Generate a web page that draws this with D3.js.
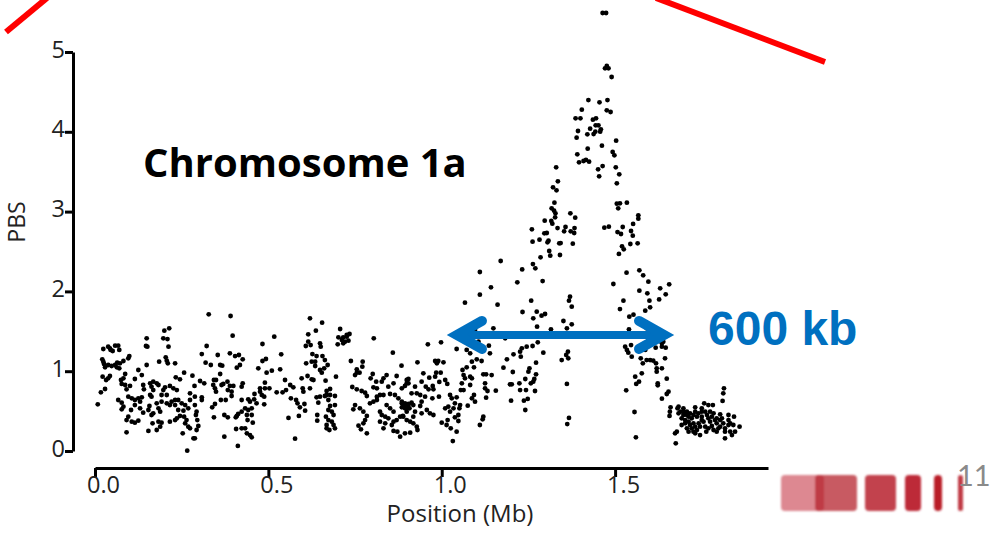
<!DOCTYPE html>
<html>
<head>
<meta charset="utf-8">
<title>Chromosome 1a</title>
<script src="https://d3js.org/d3.v7.min.js"></script>
<style>
  html, body { margin: 0; background: #fff; }
  svg text { font-family: "Open Sans", Lato, sans-serif; }
</style>
</head>
<body>
<div id="chart"></div>
<script>
const startBand = [[.008,.585],[.017,.735],[.029,.777],[.024,1.278],[.038,1.307],[.045,1.266],[.051,1.253],[.058,1.32],[.067,1.32],[.07,1.266],[.043,1.287],[.021,1.149],[.024,1.119],[.026,1.09],[.029,1.048],[.038,1.078],[.048,1.065],[.058,1.078],[.063,1.048],[.07,1.036],[.064,1.107],[.072,1.099],[.082,1.128],[.096,1.161],[.099,1.19],[.022,.931],[.038,.911],[.043,.94],[.032,.89],[.087,.965],[.082,.911],[.075,.89],[.077,.84],[.087,.827],[.101,.815],[.115,.902],[.125,1.015],[.135,.952],[.149,1.078],[.151,1.307],[.147,1.316],[.149,1.412],[.185,1.119],[.2,1.508],[.214,1.537],[.197,1.412],[.209,1.403],[.212,1.307],[.204,1.174],[.207,1.132],[.21,1.099],[.231,1.099],[.257,.982],[.233,.923],[.245,.898],[.281,.944],[.303,.877],[.315,.848],[.287,.815]];
const lowBand1 = [[.091,.773],[.096,.681],[.067,.639],[.077,.606],[.082,.556],[.077,.522],[.106,.66],[.115,.639],[.125,.66],[.13,.618],[.135,.672],[.115,.576],[.13,.535],[.104,.514],[.096,.43],[.091,.388],[.106,.368],[.115,.355],[.125,.38],[.091,.234],[.139,.48],[.159,.702],[.157,.564],[.154,.514],[.163,.451],[.168,.472],[.178,.597],[.183,.535],[.188,.493],[.166,.347],[.183,.368],[.192,.355],[.188,.305],[.178,.263],[.154,.251],[.139,.827],[.141,.773],[.159,.848],[.168,.869],[.178,.848],[.183,.827],[.163,.806],[.168,.764],[.163,.681],[.197,.764],[.202,.798],[.216,.815],[.226,.785],[.236,.764],[.192,.702],[.207,.702],[.192,.618],[.207,.597],[.216,.576],[.221,.618],[.231,.639],[.24,.639],[.25,.597],[.26,.576],[.269,.535],[.231,.576],[.24,.514],[.255,.505],[.245,.439],[.236,.409],[.216,.368],[.231,.388],[.257,.43],[.264,.388],[.26,.347],[.269,.305],[.274,.284],[.253,.221],[.284,.159],[.288,.159],[.266,.004],[.298,.313],[.293,.263],[.295,.388],[.291,.451],[.293,.493],[.288,.576],[.274,.639],[.274,.723],[.288,.681],[.308,.672],[.308,.639]];
const midBand = [[.322,1.316],[.308,1.215],[.319,1.107],[.334,1.078],[.328,1.713],[.354,1.203],[.361,1.078],[.367,1.069],[.361,.965],[.343,.89],[.349,.89],[.341,.827],[.346,.785],[.349,.744],[.365,.827],[.37,.84],[.382,.869],[.389,.815],[.399,.815],[.383,.764],[.394,.744],[.394,.689],[.426,.848],[.423,.806],[.363,.639],[.377,.639],[.346,.589],[.338,.547],[.343,.422],[.373,.451],[.383,.422],[.389,1.224],[.404,1.19],[.415,1.203],[.426,1.149],[.391,1.692],[.397,1.445],[.418,1.078],[.409,1.044],[.373,.18],[.412,.063],[.407,.276],[.423,.284],[.438,.221],[.452,.171],[.447,.2],[.455,.355],[.433,.284],[.406,.422],[.413,.464],[.423,.493],[.433,.535],[.442,.514],[.452,.535],[.409,.439],[.438,.451],[.452,.451],[.44,.388],[.423,.639],[.442,.647],[.447,.618],[.46,.714],[.459,.647],[.466,.597],[.476,.785],[.476,.744],[.481,.702],[.488,.681],[.488,.585],[.49,.856],[.49,.785],[.503,.785],[.471,1.036],[.483,1.128],[.493,1.153],[.483,1.341],[.495,.982],[.51,1.007],[.517,1.433],[.524,.735],[.541,.735],[.551,.764],[.534,1.023],[.537,1.211],[.548,.89],[.563,.827],[.572,.798],[.565,.66],[.58,.639],[.584,.597],[.591,.547],[.604,.589],[.606,.505],[.588,.439],[.558,.414],[.577,.155]];
const band600 = [[.596,.911],[.613,.94],[.599,.785],[.601,.744],[.62,.785],[.625,.898],[.63,.89],[.609,1.099],[.625,1.119],[.62,1.662],[.615,1.462],[.615,1.37],[.608,1.316],[.622,1.328],[.637,1.508],[.655,1.608],[.649,1.349],[.651,1.307],[.627,1.215],[.639,1.19],[.656,1.19],[.663,1.14],[.671,1.078],[.661,1.036],[.654,.982],[.635,1.119],[.635,1.065],[.649,1.015],[.665,.881],[.695,.931],[.639,.672],[.649,.681],[.663,.689],[.668,.702],[.644,.606],[.668,.752],[.678,.777],[.673,.639],[.678,.702],[.692,.689],[.678,.564],[.692,.576],[.673,.514],[.683,.493],[.688,.451],[.666,.43],[.641,.451],[.641,.38],[.668,.326],[.668,.284],[.676,.263],[.692,.284],[.683,.368],[.688,.326],[.673,.388]];
const knot700 = [[.707,1.529],[.734,1.466],[.702,1.424],[.716,1.424],[.726,1.433],[.712,1.391],[.721,1.37],[.731,1.383],[.7,1.337],[.716,1.349],[.726,1.454]];
const lowBand2 = [[.738,1.128],[.772,1.119],[.771,1.057],[.755,1.023],[.763,.982],[.75,.952],[.755,.982],[.742,.802],[.755,.773],[.769,.752],[.779,.731],[.784,.689],[.803,.618],[.793,.597],[.75,.576],[.745,.522],[.764,.535],[.774,.493],[.784,.439],[.779,.388],[.774,.347],[.76,.317],[.767,.272],[.784,.221],[.804,1.412],[.859,1.232],[.884,1.069],[.801,.965],[.795,.911],[.811,.869],[.803,.798],[.813,.785],[.841,.952],[.832,.911],[.827,.869],[.87,.94],[.861,.848],[.846,.806],[.904,.902],[.899,.848],[.813,.681],[.822,.702],[.832,.702],[.813,.639],[.851,.714],[.865,.702],[.875,.66],[.841,.576],[.851,.535],[.861,.493],[.822,.493],[.827,.451],[.837,.43],[.846,.409],[.822,.368],[.837,.347],[.832,.284],[.856,.326],[.861,.368],[.87,.388],[.88,.43],[.889,.43],[.899,.388],[.885,.618],[.894,.597],[.904,.576],[.889,.556],[.899,.535],[.861,.251],[.872,.242],[.88,.18],[.894,.221],[.885,.597],[.894,.576],[.904,.589],[.913,.606],[.885,.547],[.894,.535],[.907,.535],[.918,.576],[.899,.493],[.888,.439],[.913,.723],[.899,.89],[.904,.848],[.885,.785],[.894,.815]];
const nearOne = [[.93,1.111],[.947,.973],[.964,.919],[.942,.869],[.981,.931],[.984,.982],[.997,.982],[.981,1.128],[.99,1.128],[1.005,1.111],[.986,1.099],[.96,1.337],[.998,1.362],[.993,.865],[1.01,.89],[1.016,.84],[.954,.806],[.974,.815],[.976,.773],[.962,.773],[.923,.806],[.928,.723],[.938,.702],[.952,.681],[.942,.618],[.973,.66],[.992,.681],[.938,.564],[.923,.493],[.942,.472],[.957,.514],[.966,.472],[.976,.451],[.918,.43],[.909,.368],[.918,.347],[.928,.305],[.93,.263],[.909,.23],[1.01,.535],[1.019,.556],[1.029,.66],[1.024,.702],[1.043,.672],[1.038,.597],[1.053,.576],[1.051,.535],[1.034,.535],[1.024,.493],[1.048,.451],[1.038,.422],[1.017,.388],[1,.355],[1.014,.326],[1.026,.284],[1.048,.376],[1.043,.242],[1.032,.125]];
const riseLow = [[1.067,1.859],[1.11,1.959],[1.11,2.243],[1.142,2.051],[1.161,1.834],[1.218,2.114],[1.291,2.13],[1.043,1.278],[1.072,1.266],[1.082,1.224],[1.096,1.516],[1.106,1.37],[1.087,1.119],[1.101,1.149],[1.115,1.128],[1.072,1.048],[1.093,1.048],[1.06,1.015],[1.063,.952],[1.067,.911],[1.082,.931],[1.087,.911],[1.058,.848],[1.082,.827],[1.055,.764],[1.063,.764],[1.093,.702],[1.087,.66],[1.096,.618],[1.075,.568],[1.12,.961],[1.128,.961],[1.144,.952],[1.125,.848],[1.125,.785],[1.132,.752],[1.156,.756],[1.128,.668],[1.12,.43],[1.118,.397],[1.11,.326],[1.136,1.32],[1.139,1.224],[1.149,1.537],[1.178,1.044],[1.188,1.149],[1.207,1.211],[1.183,1.412],[1.226,1.245],[1.231,1.287],[1.245,1.307],[1.262,1.316],[1.277,1.362],[1.228,1.182],[1.205,.99],[1.253,1.036],[1.25,.994],[1.272,1.107],[1.272,.961],[1.241,.902],[1.224,.848],[1.197,.835],[1.202,.835],[1.257,.848],[1.267,.902],[1.264,.869],[1.226,.764],[1.243,.764],[1.269,.752],[1.2,.631],[1.237,.631],[1.248,.652],[1.241,.514],[1.233,1.742],[1.258,1.884],[1.274,1.746],[1.264,1.662],[1.288,1.696],[1.298,1.717],[1.275,1.558],[1.293,1.232],[1.351,1.629],[1.375,1.587],[1.361,1.537],[1.315,1.525],[1.37,1.934],[1.367,1.884],[1.375,1.809],[1.364,1.245],[1.359,1.203],[1.365,1.161],[1.346,1.14],[1.361,.84],[1.367,.414],[1.362,.338]];
const fallLow = [[1.495,2.093],[1.524,1.884],[1.514,1.779],[1.541,1.683],[1.553,1.708],[1.57,2.009],[1.596,2.122],[1.593,1.976],[1.599,1.884],[1.601,1.8],[1.587,1.758],[1.627,1.9],[1.63,2.038],[1.646,1.963],[1.656,2.089],[1.54,1.525],[1.591,1.537],[1.529,1.307],[1.534,1.266],[1.546,1.328],[1.538,1.232],[1.548,1.182],[1.587,1.266],[1.574,1.161],[1.58,1.099],[1.591,1.14],[1.601,1.14],[1.61,1.132],[1.618,1.099],[1.62,1.036],[1.62,.994],[1.635,1.036],[1.644,1.161],[1.617,1.295],[1.635,1.307],[1.635,1.349],[1.646,1.295],[1.639,1.37],[1.577,.973],[1.558,.931],[1.561,.84],[1.569,.869],[1.532,.76],[1.556,.489],[1.56,.171],[1.623,.848],[1.623,.823],[1.649,.906],[1.654,.744],[1.649,.714],[1.635,.656]];
const endCluster = [[1.814,.785],[1.812,.723],[1.81,.627],[1.66,.547],[1.683,.556],[1.697,.535],[1.658,.493],[1.657,.439],[1.683,.472],[1.697,.493],[1.707,.493],[1.731,.547],[1.731,.493],[1.75,.535],[1.757,.597],[1.769,.576],[1.782,.576],[1.75,.493],[1.774,.493],[1.803,.459],[1.827,.451],[1.843,.43],[1.692,.409],[1.702,.388],[1.712,.43],[1.721,.409],[1.736,.43],[1.75,.43],[1.765,.451],[1.779,.43],[1.793,.409],[1.808,.409],[1.827,.388],[1.841,.326],[1.859,.305],[1.692,.326],[1.707,.284],[1.721,.284],[1.726,.242],[1.736,.263],[1.745,.2],[1.763,.242],[1.769,.284],[1.784,.263],[1.793,.242],[1.803,.305],[1.817,.284],[1.832,.242],[1.846,.242],[1.837,.2],[1.817,.159],[1.678,.242],[1.673,.221],[1.675,.096],[1.712,.368],[1.726,.347],[1.741,.347],[1.755,.368],[1.774,.368],[1.793,.347],[1.812,.347],[1.827,.326],[1.707,.451],[1.716,.472],[1.726,.451],[1.74,.472],[1.76,.493],[1.769,.409],[1.784,.472],[1.788,.388],[1.803,.388],[1.702,.347],[1.716,.326],[1.731,.305],[1.745,.305],[1.76,.305],[1.779,.313],[1.798,.284],[1.817,.242],[1.832,.347],[1.712,.242],[1.731,.221],[1.75,.388],[1.697,.451],[1.688,.493],[1.68,.535]];
const peak = [[1.464,5.489],[1.474,5.489],[1.471,4.795],[1.476,4.825],[1.481,4.795],[1.49,4.687],[1.423,4.398],[1.455,4.369],[1.478,4.398],[1.404,4.277],[1.476,4.269],[1.487,4.248],[1.386,4.169],[1.4,4.169],[1.436,4.152],[1.445,4.169],[1.444,4.081],[1.452,4.081],[1.428,4.039],[1.393,4.01],[1.459,4.031],[1.457,4.002],[1.443,4.002],[1.438,3.972],[1.42,3.968],[1.389,3.926],[1.503,3.889],[1.462,3.826],[1.421,3.789],[1.391,3.718],[1.493,3.747],[1.498,3.705],[1.396,3.617],[1.409,3.634],[1.416,3.647],[1.425,3.626],[1.33,3.555],[1.464,3.571],[1.451,3.53],[1.502,3.555],[1.512,3.467],[1.454,3.442],[1.505,3.354],[1.335,3.379],[1.321,3.304],[1.331,3.266],[1.325,3.112],[1.505,3.099],[1.514,3.104],[1.534,3.112],[1.509,3.041],[1.317,3.041],[1.324,3.012],[1.328,2.978],[1.327,2.928],[1.371,2.978],[1.385,2.924],[1.567,2.953],[1.567,2.911],[1.297,2.886],[1.316,2.882],[1.319,2.849],[1.552,2.845],[1.26,2.778],[1.334,2.794],[1.357,2.807],[1.383,2.794],[1.469,2.799],[1.482,2.811],[1.522,2.807],[1.546,2.757],[1.296,2.728],[1.303,2.732],[1.353,2.753],[1.372,2.753],[1.382,2.732],[1.507,2.744],[1.517,2.719],[1.551,2.698],[1.262,2.623],[1.282,2.648],[1.305,2.615],[1.308,2.636],[1.339,2.602],[1.343,2.606],[1.378,2.598],[1.544,2.594],[1.565,2.602],[1.52,2.565],[1.525,2.527],[1.31,2.506],[1.511,2.469],[1.285,2.427],[1.313,2.448],[1.341,2.456],[1.17,2.381],[1.263,2.343],[1.27,2.289],[1.232,2.276],[1.533,2.235],[1.57,2.264],[1.581,2.201]];

const xTicks = [0, 0.5, 1.0, 1.5];
const yTicks = [0, 1, 2, 3, 4, 5];
const spanMb = [1.018, 1.667];   // blue arrow, tip to tip
const spanPbs = 1.454;
const fadeBars = [
  {x: 781, w: 42, c: "#dd8891"},
  {x: 815, w: 42, c: "#c85a62"},
  {x: 815, w: 9, c: "#bf3a45"},
  {x: 865, w: 31, c: "#c2434d"},
  {x: 905, w: 16, c: "#bd2b37"},
  {x: 934, w: 8, c: "#b91c28"},
  {x: 958, w: 5, c: "#c03a45"}
];

const width = 999, height = 533;
const points = [].concat(startBand, lowBand1, midBand, band600, knot700, lowBand2, nearOne, riseLow, fallLow, endCluster, peak);

const x = d3.scaleLinear().domain([0, 1.941]).range([95, 768]);
const y = d3.scaleLinear().domain([0, 5]).range([451, 52]);

const svg = d3.select("#chart").append("svg")
  .attr("width", width)
  .attr("height", height)
  .style("display", "block");

svg.append("defs").append("filter")
  .attr("id", "soft")
  .append("feGaussianBlur")
  .attr("stdDeviation", 0.9);

// red lines running off the top of the slide
svg.append("g").selectAll("line")
  .data([[6, 32, 47, -2], [656, -2, 825, 62]])
  .enter().append("line")
  .attr("x1", d => d[0]).attr("y1", d => d[1])
  .attr("x2", d => d[2]).attr("y2", d => d[3])
  .attr("stroke", "#ff0000")
  .attr("stroke-width", 6);

svg.append("g").selectAll("circle")
  .data(points)
  .enter().append("circle")
  .attr("cx", d => x(d[0]))
  .attr("cy", d => y(d[1]))
  .attr("r", 2.4)
  .attr("fill", "#000");

const yAxis = svg.append("g")
  .attr("transform", "translate(73,0)")
  .call(d3.axisLeft(y).tickValues(yTicks).tickFormat(d3.format("d")).tickSize(8).tickSizeOuter(0).tickPadding(0));
const xAxis = svg.append("g")
  .attr("transform", "translate(0,468)")
  .call(d3.axisBottom(x).tickValues(xTicks).tickFormat(d3.format(".1f")).tickSize(9).tickSizeOuter(0).tickPadding(0));

[yAxis, xAxis].forEach(a => {
  a.selectAll(".domain, .tick line").attr("stroke", "#000").attr("stroke-width", 3);
  a.selectAll("text").attr("fill", "#222").style("font-size", "23.5px");
});
// labels in the source sit off-centre from their ticks
yAxis.selectAll("text").attr("y", 5).attr("dy", 0);
xAxis.selectAll("text").attr("x", 8).attr("y", 25).attr("dy", 0);

svg.append("text")
  .attr("x", 460).attr("y", 522)
  .attr("text-anchor", "middle")
  .attr("fill", "#222")
  .style("font-size", "24px")
  .text("Position (Mb)");
svg.append("text")
  .attr("transform", "translate(25,222) rotate(-90)")
  .attr("text-anchor", "middle")
  .attr("fill", "#222")
  .style("font-size", "23px")
  .text("PBS");

svg.append("text")
  .attr("x", 143).attr("y", 177)
  .attr("font-weight", 700)
  .attr("fill", "#000")
  .style("font-size", "40px")
  .text("Chromosome 1a");

// 600 kb arrow
const blue = "#0070c0";
const arrow = svg.append("g").attr("fill", "none").attr("stroke", blue);
arrow.append("line")
  .attr("x1", x(spanMb[0]) + 6).attr("x2", x(spanMb[1]) - 6)
  .attr("y1", y(spanPbs)).attr("y2", y(spanPbs))
  .attr("stroke-width", 8);
[[spanMb[0], 1], [spanMb[1], -1]].forEach(([mb, dir]) => {
  const tip = x(mb) + dir * 9;
  arrow.append("path")
    .attr("d", `M${tip + dir * 25},${y(spanPbs) - 14}L${tip},${y(spanPbs)}L${tip + dir * 25},${y(spanPbs) + 14}`)
    .attr("stroke-width", 10)
    .attr("stroke-linecap", "round")
    .attr("stroke-linejoin", "miter");
});

svg.append("text")
  .attr("x", 708).attr("y", 345)
  .attr("font-weight", 700)
  .attr("fill", blue)
  .style("font-family", '"Liberation Sans", sans-serif')
  .style("font-size", "48px")
  .text("600 kb");

// slide footer
svg.append("g").attr("filter", "url(#soft)").selectAll("rect")
  .data(fadeBars)
  .enter().append("rect")
  .attr("x", d => d.x).attr("y", 475)
  .attr("width", d => d.w).attr("height", 36)
  .attr("rx", d => Math.min(d.w / 2, 4))
  .attr("fill", d => d.c);

svg.append("text")
  .attr("x", 957).attr("y", 486)
  .attr("fill", "#8a8a8a")
  .style("font-family", "Lato, sans-serif")
  .style("font-size", "29px")
  .text("11");
</script>
</body>
</html>
